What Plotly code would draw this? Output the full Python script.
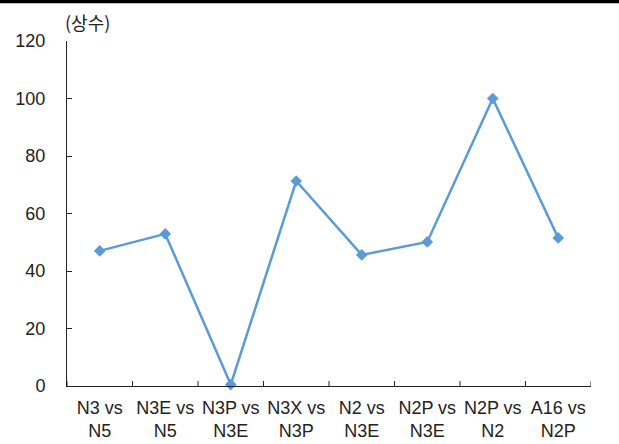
import plotly.graph_objects as go

categories = ["N3 vs<br>N5", "N3E vs<br>N5", "N3P vs<br>N3E", "N3X vs<br>N3P",
              "N2 vs<br>N3E", "N2P vs<br>N3E", "N2P vs<br>N2", "A16 vs<br>N2P"]
values = [47.0, 52.9, 0.5, 71.3, 45.6, 50.1, 100.0, 51.5]
y_ticks = [0, 20, 40, 60, 80, 100, 120]

FONT = "Liberation Sans, Arial, Noto Sans CJK KR, sans-serif"

fig = go.Figure()
fig.add_trace(go.Scatter(
    x=list(range(len(categories))), y=values, mode="lines+markers",
    line=dict(color="#5B9BD5", width=2.5),
    marker=dict(symbol="diamond", size=9, color="#5B9BD5"),
    cliponaxis=False, showlegend=False,
))

fig.update_layout(
    width=619, height=444,
    margin=dict(l=67, r=28, t=41, b=58),
    paper_bgcolor="white", plot_bgcolor="white",
    font=dict(family=FONT, size=18, color="#222222"),
    xaxis=dict(
        range=[-0.5, 7.5], tickmode="array",
        tickvals=list(range(len(categories))), ticktext=categories,
        showgrid=False, zeroline=False, showline=True,
        linecolor="#222222", linewidth=1, automargin=False,
        ticks="", ticklabelstandoff=5,
        tickfont=dict(size=18, family=FONT, color="#222222"),
    ),
    yaxis=dict(
        range=[0, 120], tickvals=y_ticks,
        showgrid=False, zeroline=False, showline=True,
        linecolor="#222222", linewidth=1, automargin=False,
        ticks="inside", ticklen=5, tickcolor="#222222",
        ticklabelstandoff=17,
        tickfont=dict(size=18, family=FONT, color="#222222"),
    ),
)

# x ticks at category boundaries (inside)
for i in range(len(categories) + 1):
    fig.add_shape(type="line", xref="x", yref="paper",
                  x0=i - 0.5, x1=i - 0.5, y0=0, y1=5 / 345,
                  line=dict(color="#222222", width=1))

# top border line
fig.add_shape(type="line", xref="paper", yref="paper",
              x0=-67 / 524, x1=(619 - 67) / 524, y0=(386 - 1.5) / 345, y1=(386 - 1.5) / 345,
              line=dict(color="black", width=3.5))

fig.add_annotation(text="(상수)", xref="paper", yref="paper",
                   x=(87 - 67) / 524, y=(386 - 21.5) / 345, showarrow=False,
                   font=dict(size=18, family="Noto Sans CJK KR, sans-serif", color="#222222"),
                   xanchor="center", yanchor="middle")

fig.write_html("out.html", post_script="document.body.style.margin='0';",
               config={"displayModeBar": False})
